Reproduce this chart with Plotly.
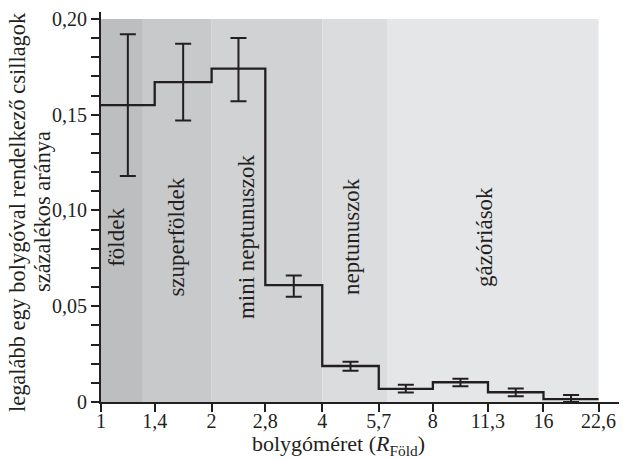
import numpy as np
import plotly.graph_objects as go

# --- data ---
bin_edges = [1, 1.4, 2, 2.8, 4, 5.7, 8, 11.3, 16, 22.6]
tick_labels = ["1", "1,4", "2", "2,8", "4", "5,7", "8", "11,3", "16", "22,6"]
fractions = [0.155, 0.167, 0.174, 0.061, 0.0188, 0.0069, 0.0103, 0.0051, 0.0015]
err_upper = [0.192, 0.187, 0.190, 0.066, 0.021, 0.009, 0.0122, 0.007, 0.0037]
err_lower = [0.118, 0.147, 0.157, 0.055, 0.0163, 0.0049, 0.0082, 0.003, 0.0]

band_names = ["földek", "szuperföldek", "mini neptunuszok", "neptunuszok", "gázóriások"]
band_edges = [1, 1.3, 2, 4, 6, 22.6]
band_label_x = [1.105, 1.607, 2.50, 4.82, 11.1]
band_colors = ["#bdbec0", "#c8c9cb", "#d1d2d4", "#dbdcde", "#e5e6e8"]

x_title = "bolygóméret (<i>R</i><sub>Föld</sub>)"
y_title_lines = ["legalább egy bolygóval rendelkező csillagok", "százalékos aránya"]

ink = "#231f20"
font_family = "Liberation Serif, Times New Roman, serif"

centers = [np.sqrt(a * b) for a, b in zip(bin_edges[:-1], bin_edges[1:])]
plus = [u - v for u, v in zip(err_upper, fractions)]
minus = [v - l for v, l in zip(fractions, err_lower)]

fig = go.Figure()

# step line
fig.add_trace(go.Scatter(
    x=bin_edges, y=fractions + [fractions[-1]],
    mode="lines", line=dict(shape="hv", color=ink, width=2.3),
    hoverinfo="skip", showlegend=False,
))
# error bars
fig.add_trace(go.Scatter(
    x=centers, y=fractions, mode="markers",
    marker=dict(size=1, color=ink, opacity=0),
    error_y=dict(type="data", array=plus, arrayminus=minus, symmetric=False,
                 color=ink, thickness=2, width=8),
    showlegend=False,
))

shapes = []
for i, name in enumerate(band_names):
    shapes.append(dict(
        type="rect", xref="x", yref="y",
        x0=band_edges[i], x1=band_edges[i + 1],
        y0=0, y1=0.2, fillcolor=band_colors[i], line=dict(width=0), layer="below",
    ))

annotations = []
for name, xl in zip(band_names, band_label_x):
    annotations.append(dict(
        x=np.log10(xl), y=0.0862, xref="x", yref="y", text=name,
        showarrow=False, textangle=-90,
        font=dict(family=font_family, size=23, color=ink),
    ))
# axis titles
annotations.append(dict(
    x=0.461, y=0, xref="paper", yref="paper", text=x_title, showarrow=False,
    xanchor="center", yanchor="middle", xshift=-5, yshift=-43,
    font=dict(family=font_family, size=22, color=ink),
))
for line_text, xs in zip(y_title_lines, [-84, -59]):
    annotations.append(dict(
        x=0, y=0.5, xref="paper", yref="paper", text=line_text, showarrow=False,
        xanchor="center", yanchor="middle", xshift=xs, yshift=-5, textangle=-90,
        font=dict(family=font_family, size=22.4, color=ink),
    ))

y_ticks = [round(i * 0.01, 2) for i in range(21)]
y_ticktext = [("0" if v == 0 else f"{v:.2f}".replace(".", ",")) if i % 5 == 0 else "" for i, v in enumerate(y_ticks)]

fig.update_layout(
    width=627, height=459,
    margin=dict(l=93, r=8, t=4, b=64.5),
    paper_bgcolor="white", plot_bgcolor="white",
    font=dict(family=font_family, size=20, color=ink),
    shapes=shapes, annotations=annotations,
    xaxis=dict(
        type="log", range=[0, np.log10(27.0)], automargin=False,
        tickvals=bin_edges, ticktext=tick_labels,
        ticks="outside", ticklen=8, tickwidth=1.5, tickcolor=ink,
        ticklabelstandoff=-8, ticklabeloverflow="allow",
        showline=True, linecolor=ink, linewidth=2, showgrid=False, zeroline=False,
        tickfont=dict(size=20),
    ),
    yaxis=dict(
        range=[0, 0.2036], tickvals=y_ticks, ticktext=y_ticktext, automargin=False,
        ticks="outside", ticklen=8, tickwidth=1.5, tickcolor=ink,
        ticklabeloverflow="allow",
        showline=True, linecolor=ink, linewidth=2, showgrid=False, zeroline=False,
        tickfont=dict(size=20),
    ),
)

fig.write_html("out.html")
